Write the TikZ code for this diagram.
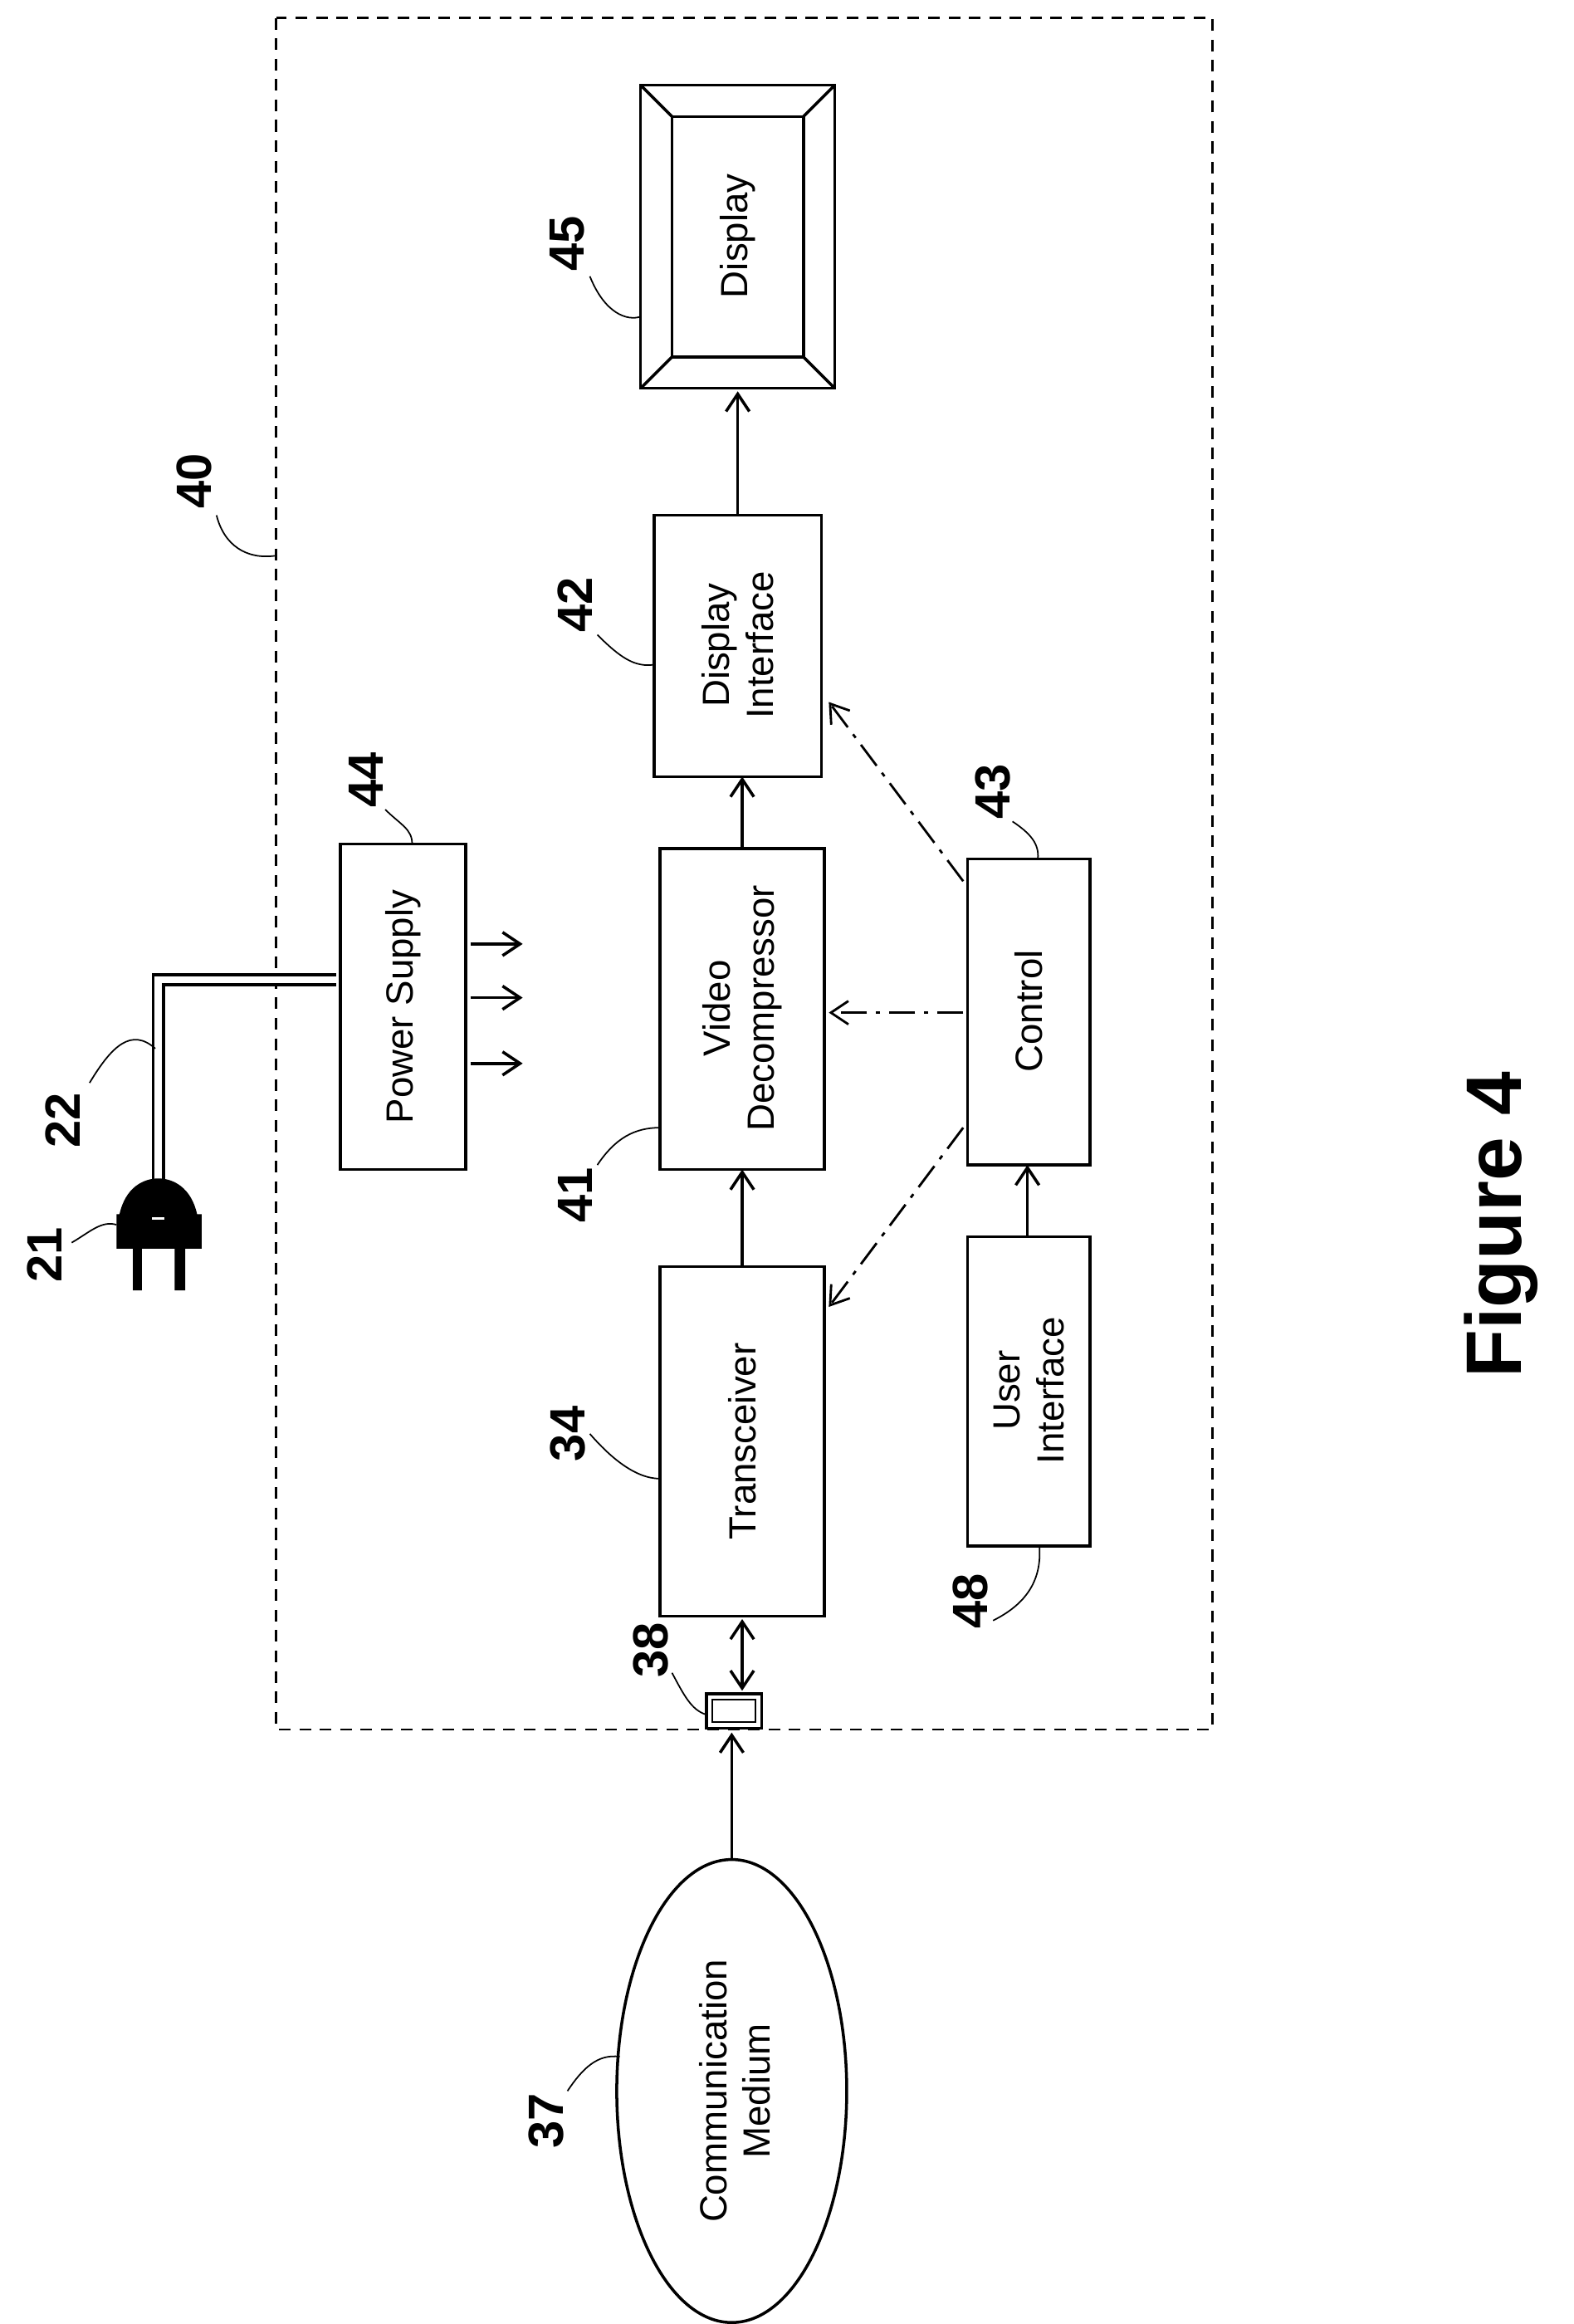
\documentclass[tikz,border=0pt]{standalone}
\usepackage{fontspec}
\setmainfont{Liberation Sans}
\usetikzlibrary{arrows.meta}
\begin{document}
\begin{tikzpicture}[x=0.018cm,y=-0.018cm,
  box/.style={draw,line width=1pt},
  txt/.style={rotate=90,align=center,font=\fontsize{13}{15}\selectfont},
  num/.style={rotate=90,font=\bfseries\fontsize{17}{19}\selectfont},
  arr/.style={line width=1pt,-{Straight Barb[length=6pt,width=8pt]}},
  dd/.style={line width=0.8pt,dash pattern=on 9pt off 3pt on 1.5pt off 3pt,-{Straight Barb[length=6pt,width=8pt]}},
  lead/.style={line width=0.5pt}]
\useasboundingbox (0,0) rectangle (1054,1556);
\draw[line width=0.8pt,dash pattern=on 4pt off 3pt] (185,12) rectangle (812,1158);
% display
\draw[box] (429,57) rectangle (559,260);
\draw[box] (450,78) rectangle (538,239);
\draw[line width=1pt] (429,57)--(450,78) (559,57)--(538,78) (429,260)--(450,239) (559,260)--(538,239);
\node[txt] (disp) at (494,158) {Display};
\coordinate (dispb) at (494,260);
% boxes
\draw[box] (438,345) rectangle (550,520); \node[txt] (di) at (494,432) {Display\\Interface};
\draw[box] (442,568) rectangle (552,783); \node[txt] (vd) at (497,675) {Video\\Decompressor};
\draw[box] (442,848) rectangle (552,1082); \node[txt] (tr) at (497,965) {Transceiver};
\draw[box] (648,575) rectangle (730,780); \node[txt] (ct) at (689,677) {Control};
\draw[box] (648,828) rectangle (730,1035); \node[txt] (ui) at (689,931) {User\\Interface};
\draw[box] (228,565) rectangle (312,783); \node[txt] (ps) at (270,674) {Power Supply};
\foreach \y in {632,668,712} \draw[arr] (315,\y)--(350,\y);
% arrows
\draw[arr] (497,848)--(497,783);
\draw[arr] (497,568)--(497,520);
\draw[arr] (494,345)--(494,262);
\draw[arr] (688,828)--(688,780);
\draw[dd] (645,590)--(555,470);
\draw[dd] (645,678)--(555,678);
\draw[dd] (645,755)--(555,875);
% connector 38
\draw[line width=1pt] (473,1134) rectangle (510,1157);
\draw[line width=0.6pt] (477,1138) rectangle (506,1153);
\draw[line width=1pt,{Straight Barb[length=6pt,width=8pt]}-{Straight Barb[length=6pt,width=8pt]}] (497,1084)--(497,1132);
\draw[line width=1pt] (490,1400) ellipse [x radius=77,y radius=155];
\node[txt] (cm) at (492,1400) {Communication\\Medium};
\draw[arr] (490,1245)--(490,1160);
% plug and cord
\draw[line width=1pt,double distance=2.5pt] (225,656)--(106,656)--(106,792);
\fill (80,813) .. controls (84,795) and (96,789) .. (106,789) .. controls (116,789) and (128,795) .. (132,813) -- (135,813) -- (135,836) -- (78,836) -- (78,813) -- cycle;
\fill (89,836) rectangle (95,864) (117,836) rectangle (124,864);
\draw[white,line width=0.8pt] (102,816)--(110,816);
% labels
\node[num] (n40) at (130,322) {40};
\draw[lead] (145,345) .. controls (150,365) and (165,375) .. (185,372);
\node[num] (n45) at (380,163) {45};
\draw[lead] (395,185) .. controls (405,210) and (420,215) .. (429,212);
\node[num] (n42) at (385,405) {42};
\draw[lead] (400,425) .. controls (415,440) and (425,447) .. (438,445);
\node[num] (n44) at (245,522) {44};
\draw[lead] (258,542) .. controls (268,552) and (276,555) .. (276,565);
\node[num] (n43) at (665,530) {43};
\draw[lead] (678,550) .. controls (690,558) and (696,565) .. (695,575);
\node[num] (n41) at (385,800) {41};
\draw[lead] (400,780) .. controls (412,762) and (425,755) .. (442,755);
\node[num] (n34) at (380,960) {34};
\draw[lead] (395,960) .. controls (408,975) and (425,990) .. (442,990);
\node[num] (n48) at (650,1072) {48};
\draw[lead] (665,1085) .. controls (685,1075) and (698,1060) .. (696,1035);
\node[num] (n38) at (436,1105) {38};
\draw[lead] (450,1120) .. controls (458,1135) and (463,1145) .. (473,1148);
\node[num] (n37) at (366,1420) {37};
\draw[lead] (380,1400) .. controls (390,1385) and (400,1375) .. (415,1377);
\node[num] (n22) at (42,750) {22};
\draw[lead] (60,725) .. controls (75,700) and (88,688) .. (104,702);
\node[num] (n21) at (30,840) {21};
\draw[lead] (48,832) .. controls (60,825) and (68,817) .. (78,820);
\node[rotate=90,font=\bfseries\fontsize{27}{30}\selectfont] (fig) at (1005,820) {Figure 4};
\end{tikzpicture}
\end{document}
